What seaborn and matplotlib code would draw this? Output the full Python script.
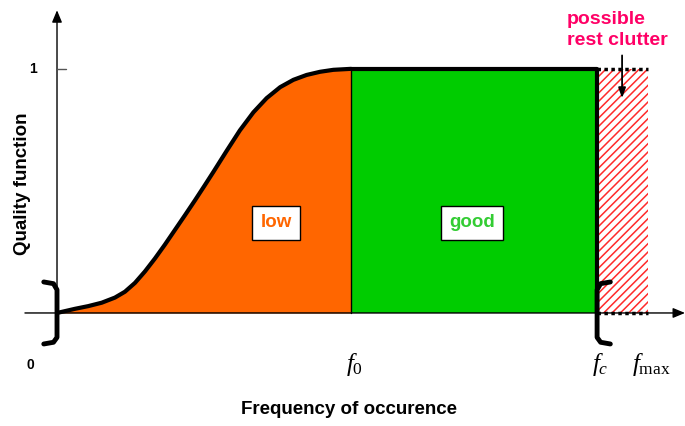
import numpy as np
import matplotlib
matplotlib.use("Agg")
import matplotlib.pyplot as plt
import seaborn as sns

# curve (x in units of f0, y = quality)
curve_x = [0.0, 0.061, 0.106, 0.152, 0.197, 0.231, 0.265, 0.299, 0.333, 0.367, 0.401,
           0.435, 0.469, 0.501, 0.532, 0.577, 0.622, 0.668, 0.713, 0.759, 0.804,
           0.849, 0.895, 0.940, 1.0]
curve_y = [0.0, 0.017, 0.028, 0.042, 0.063, 0.087, 0.123, 0.170, 0.223, 0.280, 0.340,
           0.400, 0.461, 0.520, 0.578, 0.664, 0.748, 0.822, 0.880, 0.925, 0.955,
           0.975, 0.988, 0.996, 1.0]

f0 = 1.0
fc = 1.837
fmax = 2.01
region_labels = ["low", "good"]
freq_labels = [r"$f_0$", r"$f_c$", r"$f_{\mathrm{max}}$"]
ytick_labels = ["0", "1"]

sns.set_theme(style="white")
plt.rcParams['font.family'] = ['Liberation Sans', 'DejaVu Sans']
plt.rcParams['text.color'] = 'black'
plt.rcParams['mathtext.fontset'] = 'custom'
plt.rcParams['mathtext.rm'] = 'Liberation Serif'
plt.rcParams['mathtext.it'] = 'Liberation Serif:italic'
plt.rcParams['hatch.linewidth'] = 1.1

fig = plt.figure(figsize=(6.85, 4.26), dpi=100)
ax = fig.add_axes([0, 0, 1, 1])
ax.set_xlim(-0.1939, 2.136)
ax.set_ylim(-0.463, 1.282)
ax.axis('off')

orange = '#FF6600'
green = '#00CC00'

# areas
ax.fill_between(curve_x, 0, curve_y, color=orange, lw=0, zorder=1)
ax.fill_between([f0, fc], 0, 1, color=green, lw=0, zorder=1)
ax.fill_between([fc, fmax], 0, 1, facecolor='white', edgecolor='#FF2A2A',
                hatch='////', lw=0, zorder=1)

# axes with arrows
ax.annotate('', xy=(2.136, 0), xytext=(-0.109, 0),
            arrowprops=dict(arrowstyle='-|>,head_length=0.6,head_width=0.25',
                            color='black', lw=1, shrinkA=0, shrinkB=0), zorder=3)
ax.annotate('', xy=(0, 1.24), xytext=(0, 0),
            arrowprops=dict(arrowstyle='-|>,head_length=0.6,head_width=0.25',
                            color='black', lw=1, shrinkA=0, shrinkB=0), zorder=3)
ax.plot([0, 0.03], [1, 1], color='#555555', lw=1, zorder=3)

# quality curve and top edge
sns.lineplot(x=curve_x, y=curve_y, sort=False, color='black', lw=3, ax=ax, zorder=4,
             solid_joinstyle='round', solid_capstyle='round')
ax.plot([f0, fc], [1, 1], color='black', lw=3, solid_capstyle='butt', zorder=4)
ax.plot([f0, f0], [0, 1], color='black', lw=1, zorder=4)
ax.plot([fc, fc], [0, 1], color='black', lw=3, zorder=4)
ax.plot([fc, fmax], [1, 1], color='black', lw=2.5, ls=(0, (1, 1)), zorder=4)
ax.plot([fc, fmax], [0, 0], color='black', lw=2.5, ls=(0, (1, 1)), zorder=4)

# brackets at origin and at fc
by = [0.127, 0.12, 0.095, -0.1, -0.12, -0.127]
bdx = [-0.045, -0.012, 0.0, 0.0, -0.012, -0.045]
ax.plot(bdx, by, color='black', lw=3.5, solid_joinstyle='round', zorder=5)
ax.plot([fc - v for v in bdx], by, color='black', lw=3.5, solid_joinstyle='round', zorder=5)

# region labels
ax.text(0.745, 0.37, region_labels[0], color=orange, fontsize=13.5, fontweight='bold',
        ha='center', va='center', zorder=6,
        bbox=dict(boxstyle='square,pad=0.45', fc='white', ec='black', lw=1))
ax.text(1.412, 0.37, region_labels[1], color='#33CC33', fontsize=13.5, fontweight='bold',
        ha='center', va='center', zorder=6,
        bbox=dict(boxstyle='square,pad=0.45', fc='white', ec='black', lw=1))

# clutter note
ax.text(1.733, 1.237, "possible\nrest clutter", color='#FF0066', fontsize=14,
        fontweight='bold', ha='left', va='top', linespacing=1.3)
ax.annotate('', xy=(1.922, 0.88), xytext=(1.922, 1.055),
            arrowprops=dict(arrowstyle='-|>,head_length=0.5,head_width=0.18',
                            color='black', lw=1.3, shrinkA=0, shrinkB=0), zorder=6)

# tick labels
ax.text(-0.082, 1, ytick_labels[1], fontsize=10, fontweight='bold', ha='center', va='center')
ax.text(-0.092, -0.212, ytick_labels[0], fontsize=10, fontweight='bold', ha='center', va='center')
for xv, lab in zip([f0, fc, fmax], freq_labels):
    ax.text(xv + 0.012, -0.212, lab, fontsize=18, ha='center', va='center')

ax.text(-0.119, 0.53, "Quality function", fontsize=13.5, fontweight='bold',
        rotation=90, ha='center', va='center')
ax.text(0.993, -0.396, "Frequency of occurence", fontsize=13.5, fontweight='bold',
        ha='center', va='center')

fig.savefig('out.png', dpi=100)
